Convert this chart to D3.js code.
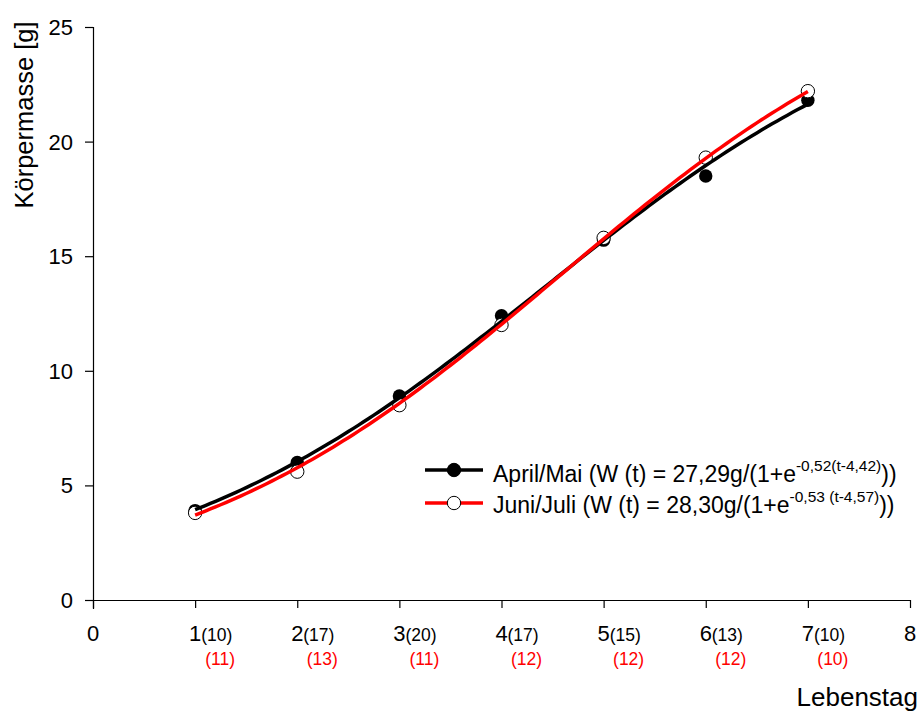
<!DOCTYPE html>
<html><head><meta charset="utf-8">
<script src="https://cdn.jsdelivr.net/npm/d3@7"></script>
<style>body{margin:0;background:#fff;}svg{display:block;font-family:"Liberation Sans",Arial,sans-serif;}</style>
</head><body><svg id="c" width="921" height="713"></svg>
<script>
const days = [1,2,3,4,5,6,7];
const aprilMai = [3.9,6.0,8.9,12.4,15.7,18.5,21.8];
const juniJuli = [3.8,5.6,8.5,12.0,15.8,19.3,22.2];
const nAprilMai = ["(10)","(17)","(20)","(17)","(15)","(13)","(10)"];
const nJuniJuli = ["(11)","(13)","(11)","(12)","(12)","(12)","(10)"];
const xTicks = [0,1,2,3,4,5,6,7,8];
const yTicks = [0,5,10,15,20,25];
// logistic fit parameters [A, k, t0] from the legend
const fitAprilMai = [27.29,0.52,4.42];
const fitJuniJuli = [28.30,0.53,4.57];

const svg = d3.select("#c");
const x = d3.scaleLinear().domain([0,8]).range([93,910]);
const y = d3.scaleLinear().domain([0,25]).range([600,27]);

// axes
const xa = svg.append("g").attr("transform","translate(0,600)")
  .call(d3.axisBottom(x).tickValues(xTicks).tickSize(8).tickFormat(""));
const ya = svg.append("g").attr("transform","translate(93,0)")
  .call(d3.axisLeft(y).tickValues(yTicks).tickSize(8).tickFormat(""));
[xa,ya].forEach(g=>{g.select(".domain").attr("stroke","#000").attr("stroke-width",1.2);
  g.selectAll(".tick line").attr("stroke","#000").attr("stroke-width",1.2);});
xa.select(".domain").attr("d","M85,0.5H910");
ya.select(".domain").attr("d","M0.5,27V609");

// y tick labels
svg.append("g").selectAll("text").data(yTicks).join("text")
  .attr("x",73).attr("y",d=>y(d)+8).attr("text-anchor","end")
  .attr("font-size",22).text(d=>d);
// x tick labels
svg.append("g").selectAll("text").data(xTicks).join("text")
  .attr("x",d=>x(d)).attr("y",641).attr("text-anchor","middle")
  .attr("font-size",22).text(d=>d);
// sample sizes
svg.append("g").selectAll("text").data(days).join("text")
  .attr("x",d=>x(d)+6).attr("y",641).attr("text-anchor","start")
  .attr("font-size",17.5).attr("fill","#000").text((d,i)=>nAprilMai[i]);
svg.append("g").selectAll("text").data(days).join("text")
  .attr("x",d=>x(d)+25).attr("y",665).attr("text-anchor","middle")
  .attr("font-size",17.5).attr("fill","#ff0000").text((d,i)=>nJuniJuli[i]);

// axis titles
svg.append("text").attr("x",918).attr("y",706).attr("text-anchor","end")
  .attr("font-size",26).text("Lebenstag");
svg.append("text").attr("transform","translate(33,115) rotate(-90)")
  .attr("text-anchor","middle").attr("font-size",25.5).text("Körpermasse [g]");

// points
const g1 = svg.append("g");
g1.selectAll("circle.a").data(days).join("circle").attr("class","a")
  .attr("cx",d=>x(d)).attr("cy",(d,i)=>y(aprilMai[i])).attr("r",6.7).attr("fill","#000");
g1.selectAll("circle.b").data(days).join("circle").attr("class","b")
  .attr("cx",d=>x(d)).attr("cy",(d,i)=>y(juniJuli[i])).attr("r",6.7)
  .attr("fill","#fff").attr("stroke","#000").attr("stroke-width",1);

// fitted curves
const tt = d3.range(1,7.0001,0.05);
const logi = (p,t)=>p[0]/(1+Math.exp(-p[1]*(t-p[2])));
const line = d3.line().x(d=>x(d[0])).y(d=>y(d[1]));
svg.append("path").datum(tt.map(t=>[t,logi(fitAprilMai,t)]))
  .attr("d",line).attr("fill","none").attr("stroke","#000").attr("stroke-width",3.5);
svg.append("path").datum(tt.map(t=>[t,logi(fitJuniJuli,t)]))
  .attr("d",line).attr("fill","none").attr("stroke","#ff0000").attr("stroke-width",3.5);

// legend
const leg = [
  {c:"#000",fill:"#000",ly:470,ty:482,main:"April/Mai (W (t) = 27,29g/(1+e",sup:"-0,52(t-4,42)"},
  {c:"#ff0000",fill:"#fff",ly:503,ty:513,main:"Juni/Juli (W (t) = 28,30g/(1+e",sup:"-0,53 (t-4,57)"}
];
leg.forEach(l=>{
  svg.append("line").attr("x1",425).attr("x2",483).attr("y1",l.ly).attr("y2",l.ly)
    .attr("stroke",l.c).attr("stroke-width",3.5);
  svg.append("circle").attr("cx",454).attr("cy",l.ly).attr("r",6.7).attr("fill",l.fill)
    .attr("stroke","#000").attr("stroke-width",1);
  const t = svg.append("text").attr("x",493).attr("y",l.ty).attr("font-size",23);
  t.append("tspan").text(l.main);
  t.append("tspan").attr("dy",-11).attr("font-size",15.5).text(l.sup);
  t.append("tspan").attr("dy",11).text("))");
});
</script></body></html>
